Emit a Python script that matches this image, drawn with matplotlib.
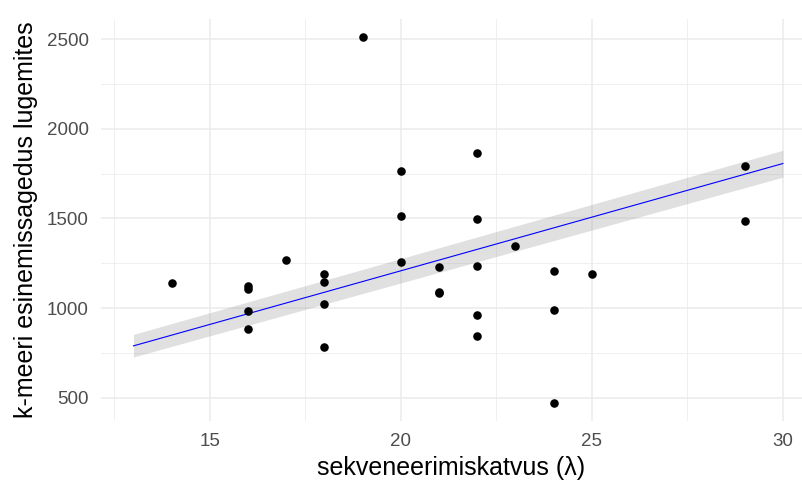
import matplotlib
matplotlib.use("Agg")
import matplotlib.pyplot as plt
from matplotlib.ticker import MultipleLocator

plt.rcParams['font.family'] = ['Liberation Sans', 'DejaVu Sans']

# ---------- DATA ----------

katvus = [14, 16, 16, 16, 16, 17, 18, 18, 18, 18, 19, 20, 20, 20,
          21, 21, 21, 22, 22, 22, 22, 22, 23, 24, 24, 24, 25, 29, 29]
sagedus = [1139, 1122, 1105, 983, 883, 1267, 1189, 1144, 1022, 783, 2510,
           1767, 1511, 1256, 1228, 1089, 1083, 1867, 1494, 1233, 961, 844,
           1344, 1206, 989, 472, 1189, 1794, 1483]

# smoother (lm)
fit_x = [13, 30]
fit_y = [789, 1806]
fit_lo = [727, 1730]
fit_hi = [853, 1880]

x_ticks = [15, 20, 25, 30]
y_ticks = [500, 1000, 1500, 2000, 2500]

# ---------- PLOT ----------

fig = plt.figure(figsize=(8.02, 4.88), dpi=100)
ax = fig.add_axes([101 / 802, 1 - 421 / 488, 1 - 101 / 802, (421 - 19) / 488])

ax.fill_between(fit_x, fit_lo, fit_hi, color='#999999', alpha=0.3,
                linewidth=0, zorder=2)
ax.plot(fit_x, fit_y, color='#0000FF', linewidth=0.8, zorder=3)
ax.scatter(katvus, sagedus, s=38, color='black', linewidths=0, zorder=4)

ax.set_xlim(12.15, 30.5)
ax.set_ylim(370, 2612)
ax.set_xticks(x_ticks)
ax.set_yticks(y_ticks)
ax.xaxis.set_minor_locator(MultipleLocator(2.5))
ax.yaxis.set_minor_locator(MultipleLocator(250))

ax.grid(True, which='major', color='#EBEBEB', linewidth=1.1, zorder=0)
ax.grid(True, which='minor', color='#EBEBEB', linewidth=0.55, zorder=0)
ax.set_axisbelow(True)
for s in ax.spines.values():
    s.set_visible(False)

ax.tick_params(which='both', length=0)
ax.tick_params(axis='y', labelsize=13.5, labelcolor='#4D4D4D', pad=9)
ax.tick_params(axis='x', labelsize=13.5, labelcolor='#4D4D4D', pad=9)

# axis titles placed in figure coords
fig.text(451 / 802, 1 - 468 / 488, "sekveneerimiskatvus (λ)", fontsize=18,
         ha='center', va='center')
fig.text(26 / 802, 1 - 220 / 488, "k-meeri esinemissagedus lugemites",
         fontsize=18, rotation=90, ha='center', va='center')

fig.savefig("out.png", dpi=100)
